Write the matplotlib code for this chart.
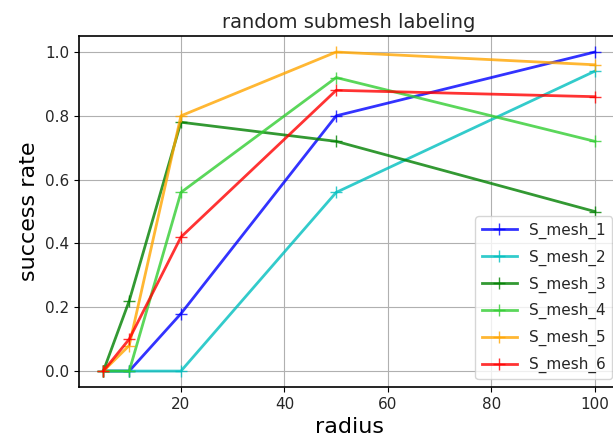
import matplotlib
matplotlib.use('Agg')
import matplotlib.pyplot as plt

radius = [5, 10, 20, 50, 100]
s_mesh_1 = [0.0, 0.0, 0.18, 0.80, 1.00]
s_mesh_2 = [0.0, 0.0, 0.0, 0.56, 0.94]
s_mesh_3 = [0.0, 0.22, 0.78, 0.72, 0.50]
s_mesh_4 = [0.0, 0.0, 0.56, 0.92, 0.72]
s_mesh_5 = [0.0, 0.08, 0.80, 1.00, 0.96]
s_mesh_6 = [0.0, 0.10, 0.42, 0.88, 0.86]

names = ['S_mesh_1', 'S_mesh_2', 'S_mesh_3', 'S_mesh_4', 'S_mesh_5', 'S_mesh_6']
series = [s_mesh_1, s_mesh_2, s_mesh_3, s_mesh_4, s_mesh_5, s_mesh_6]
colors = ['b', 'c', 'g', 'limegreen', 'orange', 'r']

plt.rcParams['font.size'] = 11
plt.rcParams['axes.linewidth'] = 1.2
plt.rcParams['text.color'] = '#262626'
plt.rcParams['xtick.labelcolor'] = '#262626'
plt.rcParams['ytick.labelcolor'] = '#262626'

fig = plt.figure(figsize=(6.13, 4.42), dpi=100)
# right edge of the axes is cut off in the original
ax = fig.add_axes([0.1285, 0.1244, 0.882, 0.794])
for name, vals, col in zip(names, series, colors):
    ax.plot(radius, vals, marker='+', markersize=9, color=col, alpha=0.8,
            linewidth=2, label=name)
ax.set_title('random submesh labeling', fontsize=14)
ax.set_xlabel('radius', fontsize=16)
ax.set_ylabel('success rate', fontsize=16)
ax.grid(True)
ax.legend(loc='lower right', fontsize=11, labelspacing=0.7, handlelength=2.3)
fig.savefig('out.png')
